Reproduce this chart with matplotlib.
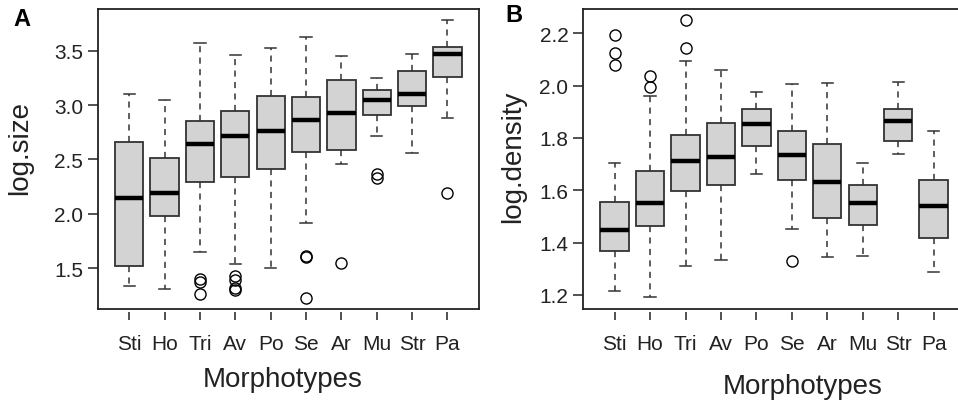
import matplotlib
matplotlib.use("Agg")
import matplotlib.pyplot as plt

plt.rcParams["font.family"] = ["Liberation Sans", "DejaVu Sans"]

morphotypes = ["Sti", "Ho", "Tri", "Av", "Po", "Se", "Ar", "Mu", "Str", "Pa"]

# log.size: lower whisker, Q1, median, Q3, upper whisker, outliers
size_low = [1.34, 1.31, 1.65, 1.54, 1.50, 1.92, 2.46, 2.72, 2.56, 2.88]
size_q1 = [1.52, 1.98, 2.29, 2.34, 2.41, 2.57, 2.59, 2.91, 2.99, 3.26]
size_med = [2.15, 2.19, 2.64, 2.72, 2.76, 2.86, 2.93, 3.05, 3.10, 3.47]
size_q3 = [2.66, 2.51, 2.85, 2.95, 3.08, 3.07, 3.23, 3.14, 3.31, 3.53]
size_high = [3.10, 3.05, 3.57, 3.46, 3.52, 3.63, 3.45, 3.25, 3.47, 3.78]
size_out = [[], [], [1.40, 1.37, 1.26], [1.43, 1.39, 1.32, 1.30], [],
            [1.61, 1.60, 1.23], [1.55], [2.37, 2.33], [], [2.19]]

# log.density
dens_low = [1.215, 1.19, 1.31, 1.335, 1.664, 1.45, 1.344, 1.348, 1.739, 1.286]
dens_q1 = [1.369, 1.462, 1.598, 1.621, 1.770, 1.638, 1.494, 1.466, 1.787, 1.418]
dens_med = [1.449, 1.553, 1.712, 1.727, 1.853, 1.734, 1.630, 1.550, 1.865, 1.540]
dens_q3 = [1.555, 1.673, 1.813, 1.858, 1.911, 1.825, 1.777, 1.619, 1.909, 1.639]
dens_high = [1.704, 1.959, 2.094, 2.058, 1.975, 2.007, 2.011, 1.704, 2.012, 1.828]
dens_out = [[2.192, 2.125, 2.077], [2.038, 1.996], [2.250, 2.143], [], [],
            [1.328], [], [], [], []]


def make_stats(low, q1, med, q3, high, out):
    stats = []
    for i in range(len(med)):
        stats.append({"whislo": low[i], "q1": q1[i], "med": med[i],
                      "q3": q3[i], "whishi": high[i], "fliers": out[i]})
    return stats


fig = plt.figure(figsize=(9.58, 4.02), dpi=100)
W, H = 958.0, 402.0
ax1 = fig.add_axes([97.7 / W, 92 / H, (479 - 97.7) / W, 300 / H])
ax2 = fig.add_axes([583 / W, 92 / H, (965.3 - 583) / W, 300 / H])

edge = "#333333"
panels = [
    (ax1, make_stats(size_low, size_q1, size_med, size_q3, size_high, size_out),
     (1.126, 3.883), [1.5, 2.0, 2.5, 3.0, 3.5], "log.size", "A"),
    (ax2, make_stats(dens_low, dens_q1, dens_med, dens_q3, dens_high, dens_out),
     (1.146, 2.293), [1.2, 1.4, 1.6, 1.8, 2.0, 2.2], "log.density", "B"),
]
pos = list(range(1, len(morphotypes) + 1))

for ax, stats, ylim, yticks, ylab, letter in panels:
    ax.bxp(stats, positions=pos, widths=0.8, capwidths=0.32, patch_artist=True,
           boxprops=dict(facecolor="#d3d3d3", edgecolor=edge, linewidth=1.3),
           medianprops=dict(color="black", linewidth=3.2, solid_capstyle="butt"),
           whiskerprops=dict(color=edge, linewidth=1.1, linestyle=(0, (4, 3.5))),
           capprops=dict(color=edge, linewidth=1.1),
           flierprops=dict(marker="o", markerfacecolor="none", markeredgecolor="black",
                           markersize=8, markeredgewidth=1.0))
    ax.set_xlim(0.107, 10.893)
    ax.set_ylim(*ylim)
    ax.set_yticks(yticks)
    ax.set_yticklabels(["%.1f" % v for v in yticks])
    ax.tick_params(axis="y", direction="out", length=7.5, width=1.1, pad=3,
                   labelsize=15, colors="#222222")
    ax.tick_params(axis="x", length=0, labelbottom=False)
    for sp in ax.spines.values():
        sp.set_linewidth(1.3)
        sp.set_color("#222222")
    # x ticks sit a little below the box, as in base R graphics
    sec = ax.secondary_xaxis(-3.0 / 300)
    sec.set_xticks(pos)
    sec.set_xticklabels(morphotypes)
    sec.spines["bottom"].set_visible(False)
    sec.tick_params(direction="out", length=5.5, width=1.1, pad=10,
                    labelsize=15, colors="#222222")

ax1.set_ylabel("log.size", fontsize=20, color="#222222")
ax1.yaxis.set_label_coords(-0.204, 0.54)
ax1.set_xlabel("Morphotypes", fontsize=20, color="#222222")
ax1.xaxis.set_label_coords(0.485, -0.233)
ax2.set_ylabel("log.density", fontsize=20, color="#222222")
ax2.yaxis.set_label_coords(-0.183, 0.51)
ax2.set_xlabel("Morphotypes", fontsize=20, color="#222222")
ax2.xaxis.set_label_coords(0.575, -0.257)
ax1.xaxis.label.set_va("center")
ax2.xaxis.label.set_va("center")
ax1.yaxis.label.set_va("center")
ax2.yaxis.label.set_va("center")

fig.text(22 / W, 1 - 19 / H, "A", fontsize=17, fontweight="bold", ha="center", va="center")
fig.text(514 / W, 1 - 16 / H, "B", fontsize=17, fontweight="bold", ha="center", va="center")

fig.savefig("out.png", dpi=100)
